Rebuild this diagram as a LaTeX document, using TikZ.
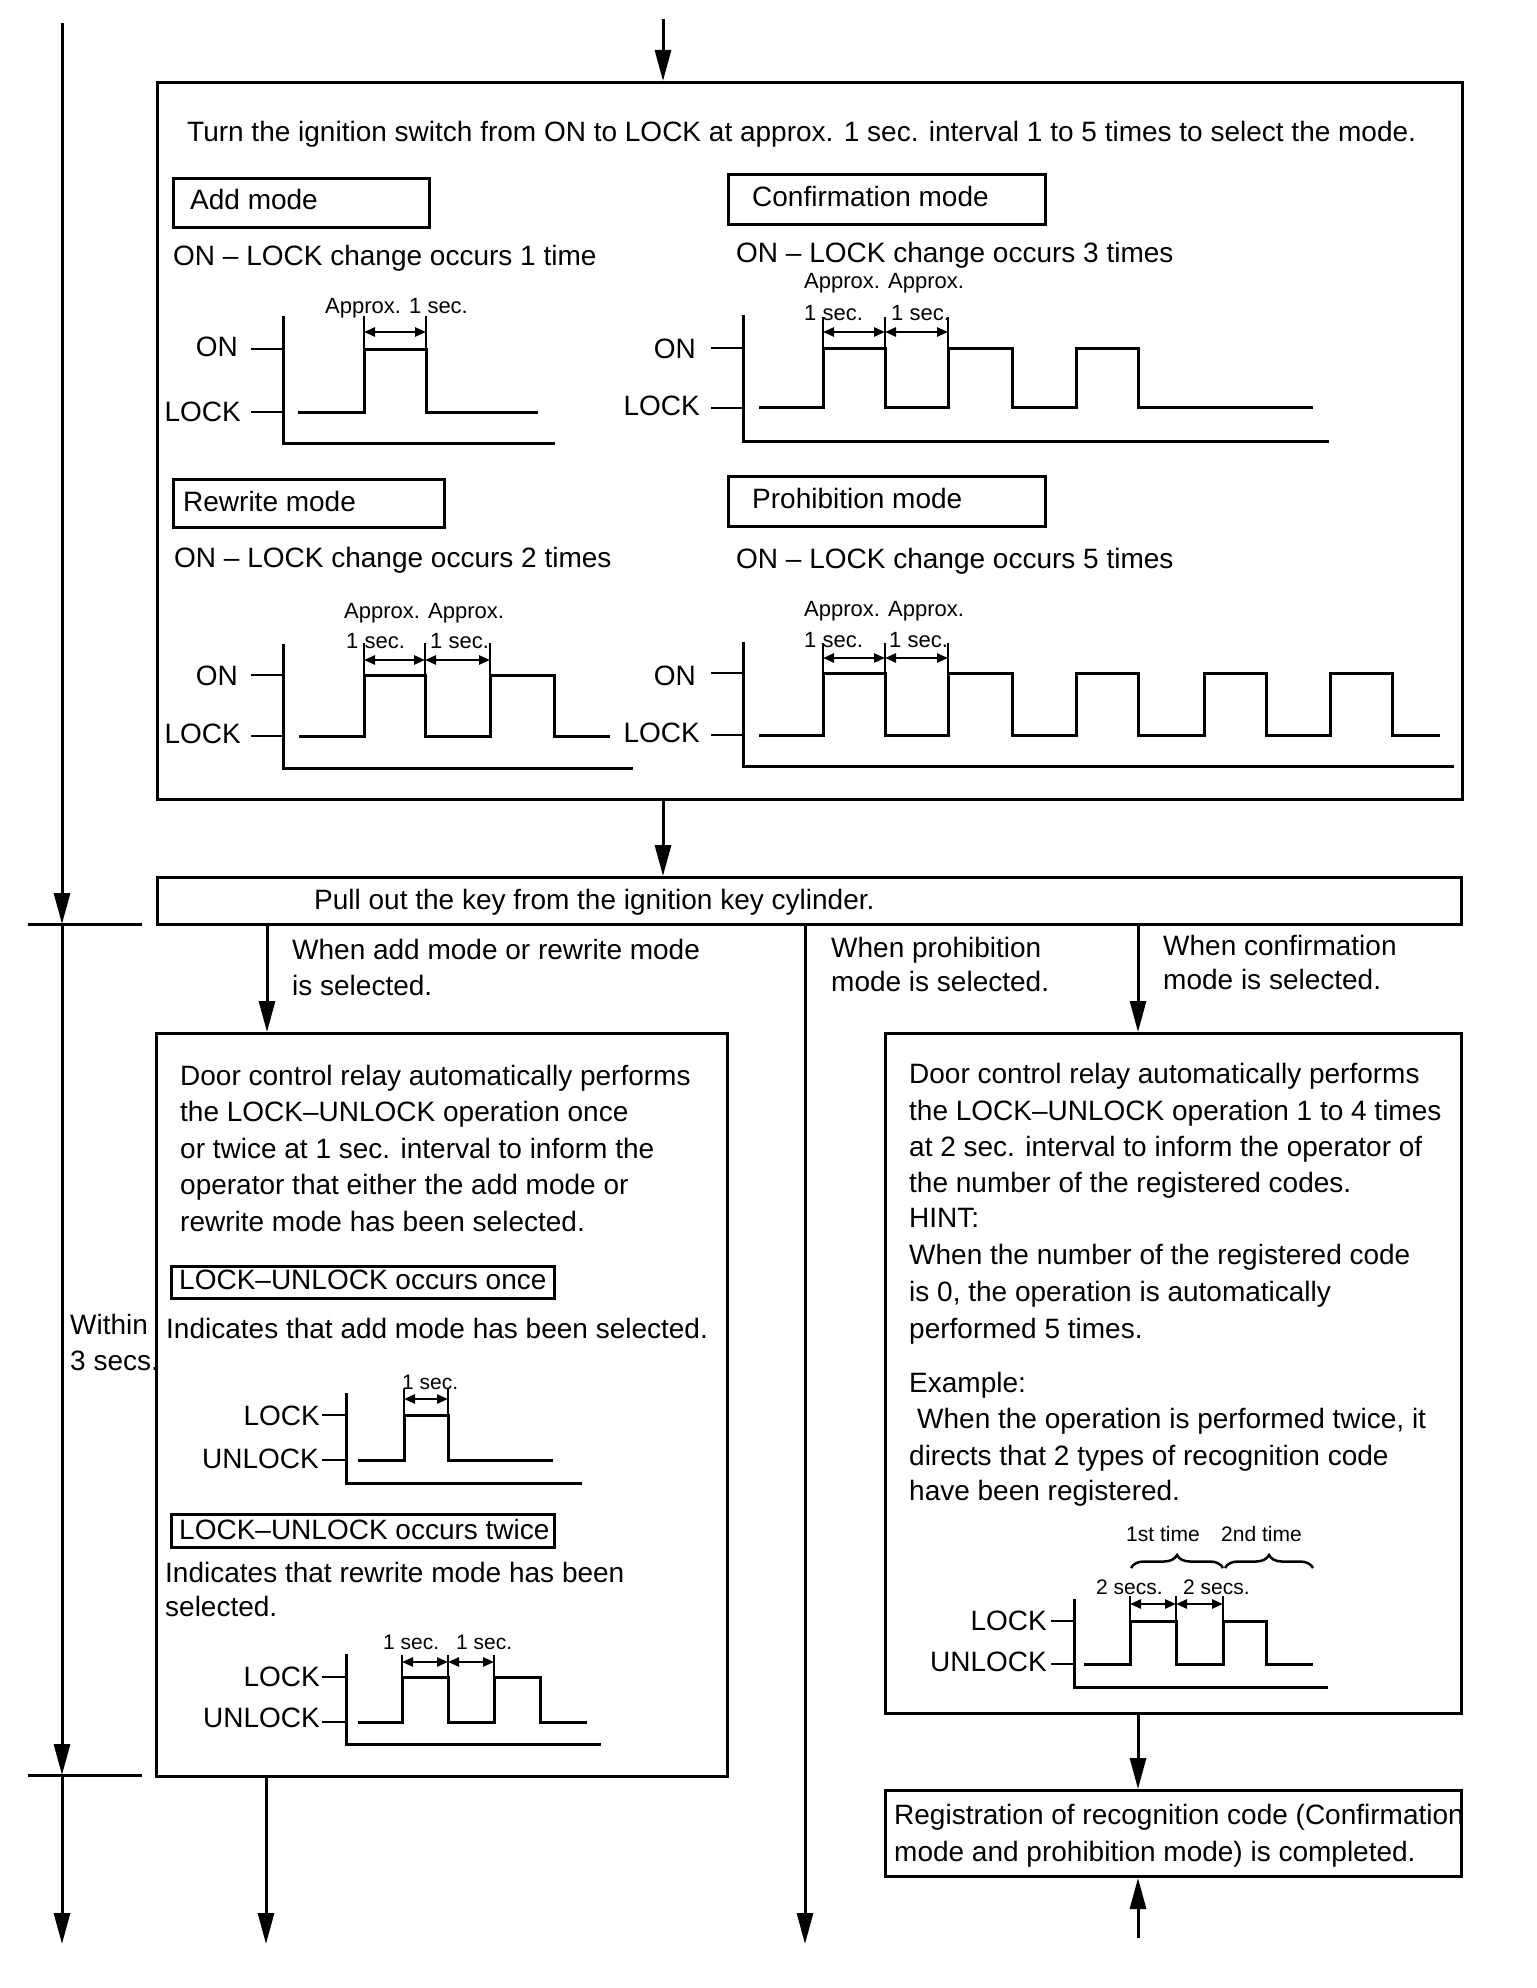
\documentclass[tikz,border=0pt]{standalone}
\usepackage{fontspec}
\setmainfont{Liberation Sans}
\usetikzlibrary{arrows.meta,decorations.pathreplacing}
\begin{document}
\begin{tikzpicture}[x=1pt,y=-1pt,
 box/.style={draw,line width=3pt,inner sep=0pt,anchor=north west},
 sbox/.style={draw,line width=2.5pt,inner sep=0pt,anchor=north west},
 lbl/.style={inner sep=0pt,anchor=base west,font=\fontsize{28}{36}\selectfont},
 lble/.style={inner sep=0pt,anchor=base east,font=\fontsize{28}{36}\selectfont},
 sm/.style={inner sep=0pt,anchor=base west,font=\fontsize{22}{26}\selectfont},
 smb/.style={inner sep=0pt,anchor=base west,font=\fontsize{21}{25}\selectfont},
 arr/.style={line width=3pt,-{Triangle[length=31pt,width=16pt]}},
 dimar/.style={line width=2.5pt,{Triangle[length=11pt,width=9pt]}-{Triangle[length=11pt,width=9pt]}},
 wave/.style={line width=3pt},
 thinl/.style={line width=2.5pt},
 brc/.style={line width=2.5pt,decorate,decoration={brace,amplitude=13pt}}]
\useasboundingbox (0,0) rectangle (1536,1988);
\fill[white] (0,0) rectangle (1536,1988);

% ---------- main boxes ----------
\node[box,minimum width=1305pt,minimum height=717pt] (big) at (156,81) {};
\node[box,minimum width=1304pt,minimum height=47pt] (pull) at (156,876) {};
\node[box,minimum width=571pt,minimum height=743pt] (lbox) at (155,1032) {};
\node[box,minimum width=576pt,minimum height=680pt] (rbox) at (884,1032) {};
\node[box,minimum width=576pt,minimum height=86pt] (reg) at (884,1789) {};

% mode boxes
\node[box,minimum width=256pt,minimum height=49pt] (addb) at (172,177) {};
\node[box,minimum width=317pt,minimum height=50pt] (confb) at (727,173) {};
\node[box,minimum width=271pt,minimum height=48pt] (rewb) at (172,478) {};
\node[box,minimum width=317pt,minimum height=50pt] (prob) at (727,475) {};
\node[sbox,minimum width=383pt,minimum height=32pt] (onceb) at (170,1265) {};
\node[sbox,minimum width=383pt,minimum height=33pt] (twiceb) at (170,1513) {};

% ---------- connectors ----------
\coordinate (topin) at (663,19);
\draw[arr] (topin) -- (big.north -| topin);
\draw[arr] (big.south -| topin) -- (pull.north -| topin);

\coordinate (L0) at (62,23);
\coordinate (L1) at (62,924);
\coordinate (L2) at (62,1775);
\coordinate (L3) at (62,1944);
\draw[arr] (L0) -- (L1);
\draw[arr] (L1) -- (L2);
\draw[arr] (L2) -- (L3);
\coordinate (m1a) at (28,924); \coordinate (m1b) at (142,924);
\coordinate (m2a) at (28,1775); \coordinate (m2b) at (142,1775);
\draw[line width=3pt] (m1a) -- (m1b);
\draw[line width=3pt] (m2a) -- (m2b);

\coordinate (xl) at (267,0);
\draw[arr] (pull.south -| xl) -- (lbox.north -| xl);
\coordinate (lend) at (266,1944);
\draw[arr] (lbox.south -| lend) -- (lend);
\coordinate (mend) at (805,1944);
\draw[arr] (pull.south -| mend) -- (mend);
\coordinate (xr) at (1138,0);
\draw[arr] (pull.south -| xr) -- (rbox.north -| xr);
\draw[arr] (rbox.south -| xr) -- (reg.north -| xr);
\coordinate (rin) at (1138,1938);
\draw[arr] (rin) -- (reg.south -| rin);

% ---------- texts in top box ----------
\node[lbl] (title) at (187,142) {Turn the ignition switch from ON to LOCK at approx. 1 sec. interval 1 to 5 times to select the mode.};
\node[lbl] (addt) at (190,209) {Add mode};
\node[lbl] (conft) at (752,207) {Confirmation mode};
\node[lbl] (rewt) at (183,511) {Rewrite mode};
\node[lbl] (prot) at (752,508) {Prohibition mode};
\node[lbl] (ch1) at (173,265) {ON – LOCK change occurs 1 time};
\node[lbl] (ch3) at (736,262) {ON – LOCK change occurs 3 times};
\node[lbl] (ch2) at (174,567) {ON – LOCK change occurs 2 times};
\node[lbl] (ch5) at (736,568) {ON – LOCK change occurs 5 times};

% ---------- add mode diagram ----------
\draw[wave] (283,316) -- (283,443) -- (555,443);
\draw[thinl] (251,349) -- (283,349);
\draw[thinl] (251,412) -- (283,412);
\draw[wave] (298,412) -- (364,412) -- (364,349) -- (426,349) -- (426,412) -- (538,412);
\draw[thinl] (364,316) -- (364,349);
\draw[thinl] (426,316) -- (426,349);
\draw[dimar] (364,332) -- (426,332);
\node[lble] (aon) at (238,356) {ON};
\node[lble] (alock) at (241,421) {LOCK};
\node[sm] (aap) at (325,313) {Approx. 1 sec.};

% ---------- confirmation diagram ----------
\draw[wave] (743,315) -- (743,441) -- (1329,441);
\draw[thinl] (711,348) -- (743,348);
\draw[thinl] (711,408) -- (743,408);
\draw[wave] (759,407) -- (823,407) -- (823,348) -- (885,348) -- (885,407) -- (948,407) -- (948,348) -- (1012,348) -- (1012,407) -- (1076,407) -- (1076,348) -- (1138,348) -- (1138,407) -- (1313,407);
\draw[thinl] (823,317) -- (823,348);
\draw[thinl] (885,317) -- (885,348);
\draw[thinl] (948,317) -- (948,348);
\draw[dimar] (823,332) -- (885,332);
\draw[dimar] (885,332) -- (948,332);
\node[lble] (con) at (696,358) {ON};
\node[lble] (clock) at (700,415) {LOCK};
\node[sm] (cap) at (804,288) {Approx. Approx.};
\node[sm] (cs1) at (804,320) {1 sec.};
\node[sm] (cs2) at (891,320) {1 sec.};

% ---------- rewrite diagram ----------
\draw[wave] (283,644) -- (283,768) -- (633,768);
\draw[thinl] (251,675) -- (283,675);
\draw[thinl] (251,736) -- (283,736);
\draw[wave] (299,736) -- (364,736) -- (364,675) -- (425,675) -- (425,736) -- (490,736) -- (490,675) -- (554,675) -- (554,736) -- (610,736);
\draw[thinl] (364,643) -- (364,675);
\draw[thinl] (425,643) -- (425,675);
\draw[thinl] (490,643) -- (490,675);
\draw[dimar] (364,660) -- (425,660);
\draw[dimar] (425,660) -- (490,660);
\node[lble] (ron) at (238,685) {ON};
\node[lble] (rlock) at (241,743) {LOCK};
\node[sm] (rap) at (344,618) {Approx. Approx.};
\node[sm] (rs1) at (346,648) {1 sec.};
\node[sm] (rs2) at (430,648) {1 sec.};

% ---------- prohibition diagram ----------
\draw[wave] (743,642) -- (743,766) -- (1454,766);
\draw[thinl] (711,673) -- (743,673);
\draw[thinl] (711,735) -- (743,735);
\draw[wave] (759,735) -- (823,735) -- (823,673) -- (885,673) -- (885,735) -- (948,735) -- (948,673) -- (1012,673) -- (1012,735) -- (1076,735) -- (1076,673) -- (1138,673) -- (1138,735) -- (1204,735) -- (1204,673) -- (1266,673) -- (1266,735) -- (1330,735) -- (1330,673) -- (1392,673) -- (1392,735) -- (1440,735);
\draw[thinl] (823,643) -- (823,673);
\draw[thinl] (885,643) -- (885,673);
\draw[thinl] (948,643) -- (948,673);
\draw[dimar] (823,658) -- (885,658);
\draw[dimar] (885,658) -- (948,658);
\node[lble] (pon) at (696,685) {ON};
\node[lble] (plock) at (700,742) {LOCK};
\node[sm] (pap) at (804,616) {Approx. Approx.};
\node[sm] (ps1) at (804,647) {1 sec.};
\node[sm] (ps2) at (889,647) {1 sec.};

% ---------- pull-out and branch labels ----------
\node[lbl] (pullt) at (314,909) {Pull out the key from the ignition key cylinder.};
\node[lbl] (wa1) at (292,959) {When add mode or rewrite mode};
\node[lbl] (wa2) at (292,995) {is selected.};
\node[lbl] (wp1) at (831,957) {When prohibition};
\node[lbl] (wp2) at (831,991) {mode is selected.};
\node[lbl] (wc1) at (1163,955) {When confirmation};
\node[lbl] (wc2) at (1163,989) {mode is selected.};
\node[lbl] (wi1) at (70,1334) {Within};
\node[lbl] (wi2) at (70,1370) {3 secs.};

% ---------- left box ----------
\node[lbl] (lt1) at (180,1085) {Door control relay automatically performs};
\node[lbl] (lt2) at (180,1121) {the LOCK–UNLOCK operation once};
\node[lbl] (lt3) at (180,1158) {or twice at 1 sec. interval to inform the};
\node[lbl] (lt4) at (180,1194) {operator that either the add mode or};
\node[lbl] (lt5) at (180,1231) {rewrite mode has been selected.};
\node[lbl] (oncet) at (179,1289) {LOCK–UNLOCK occurs once};
\node[lbl] (ind1) at (166,1338) {Indicates that add mode has been selected.};
\node[lbl] (twicet) at (179,1539) {LOCK–UNLOCK occurs twice};
\node[lbl] (ind2) at (165,1582) {Indicates that rewrite mode has been};
\node[lbl] (ind3) at (165,1616) {selected.};

% once diagram
\draw[wave] (346,1393) -- (346,1483) -- (582,1483);
\draw[thinl] (322,1415) -- (346,1415);
\draw[thinl] (322,1460) -- (346,1460);
\draw[wave] (358,1460) -- (404,1460) -- (404,1415) -- (448,1415) -- (448,1460) -- (553,1460);
\draw[thinl] (404,1389) -- (404,1415);
\draw[thinl] (448,1389) -- (448,1415);
\draw[dimar] (404,1399) -- (448,1399);
\node[lble] (olock) at (320,1425) {LOCK};
\node[lble] (ounl) at (319,1468) {UNLOCK};
\node[smb] (os1) at (402,1389) {1 sec.};

% twice diagram
\draw[wave] (346,1654) -- (346,1744) -- (601,1744);
\draw[thinl] (322,1677) -- (346,1677);
\draw[thinl] (322,1722) -- (346,1722);
\draw[wave] (358,1722) -- (402,1722) -- (402,1677) -- (448,1677) -- (448,1722) -- (494,1722) -- (494,1677) -- (540,1677) -- (540,1722) -- (587,1722);
\draw[thinl] (402,1655) -- (402,1677);
\draw[thinl] (448,1655) -- (448,1677);
\draw[thinl] (494,1655) -- (494,1677);
\draw[dimar] (402,1662) -- (448,1662);
\draw[dimar] (448,1662) -- (494,1662);
\node[lble] (tlock) at (320,1686) {LOCK};
\node[lble] (tunl) at (320,1727) {UNLOCK};
\node[smb] (ts1) at (383,1649) {1 sec.};
\node[smb] (ts2) at (456,1649) {1 sec.};

% ---------- right box ----------
\node[lbl] (rt1) at (909,1083) {Door control relay automatically performs};
\node[lbl] (rt2) at (909,1120) {the LOCK–UNLOCK operation 1 to 4 times};
\node[lbl] (rt3) at (909,1156) {at 2 sec. interval to inform the operator of};
\node[lbl] (rt4) at (909,1192) {the number of the registered codes.};
\node[lbl] (rt5) at (909,1227) {HINT:};
\node[lbl] (rt6) at (909,1264) {When the number of the registered code};
\node[lbl] (rt7) at (909,1301) {is 0, the operation is automatically};
\node[lbl] (rt8) at (909,1338) {performed 5 times.};
\node[lbl] (rt9) at (909,1392) {Example:};
\node[lbl] (rt10) at (917,1428) {When the operation is performed twice, it};
\node[lbl] (rt11) at (909,1465) {directs that 2 types of recognition code};
\node[lbl] (rt12) at (909,1500) {have been registered.};

% right diagram
\draw[wave] (1074,1599) -- (1074,1687) -- (1328,1687);
\draw[thinl] (1051,1621) -- (1074,1621);
\draw[thinl] (1051,1664) -- (1074,1664);
\draw[wave] (1084,1664) -- (1130,1664) -- (1130,1621) -- (1176,1621) -- (1176,1664) -- (1223,1664) -- (1223,1621) -- (1266,1621) -- (1266,1664) -- (1313,1664);
\draw[thinl] (1130,1596) -- (1130,1621);
\draw[thinl] (1176,1596) -- (1176,1621);
\draw[thinl] (1223,1596) -- (1223,1621);
\draw[dimar] (1130,1604) -- (1176,1604);
\draw[dimar] (1176,1604) -- (1223,1604);
\node[lble] (rlk) at (1047,1630) {LOCK};
\node[lble] (rul) at (1047,1671) {UNLOCK};
\node[smb] (r2s1) at (1096,1594) {2 secs.};
\node[smb] (r2s2) at (1183,1594) {2 secs.};
\node[smb] (r1st) at (1126,1541) {1st time};
\node[smb] (r2nd) at (1221,1541) {2nd time};
\draw[brc] (1131,1568) -- (1223,1568);
\draw[brc] (1225,1568) -- (1313,1568);

% ---------- registration box ----------
\node[lbl] (rg1) at (894,1824) {Registration of recognition code (Confirmation};
\node[lbl] (rg2) at (894,1861) {mode and prohibition mode) is completed.};
\end{tikzpicture}
\end{document}
